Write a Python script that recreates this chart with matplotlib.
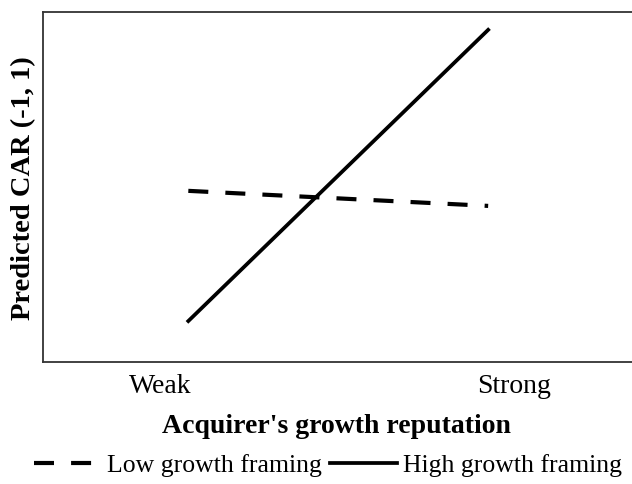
import matplotlib
matplotlib.use("Agg")
import matplotlib.pyplot as plt

# Data
tick_positions = [0.0, 1.0]
tick_labels = ["Weak", "Strong"]
x_points = [0.08, 0.927]
low_growth = [0.489, 0.446]
high_growth = [0.117, 0.949]
series_names = ["Low growth framing", "High growth framing"]

plt.rcParams['font.family'] = ['Liberation Serif', 'DejaVu Serif']

fig = plt.figure(figsize=(6.32, 4.85), dpi=100)
ax = fig.add_axes([43/632, 1 - 363/485, 1.0, 350/485])

ax.plot(x_points, low_growth, color='black', lw=3.0, linestyle=(0, (4.8, 4.1)),
        label=series_names[0], solid_capstyle='butt', dash_capstyle='butt')
ax.plot(x_points, high_growth, color='black', lw=2.7, label=series_names[1])

# x axis mapping: Weak at px 160, Strong at px 514; left edge at 43
scale = 514 - 160
x_left = (43 - 160) / scale
x_right = x_left + 632 / scale
ax.set_xlim(x_left, x_right)
ax.set_ylim(0, 1)

ax.set_xticks(tick_positions)
ax.set_xticklabels(tick_labels, fontsize=20)
ax.set_yticks([])
ax.tick_params(axis='x', length=0, pad=8)
for s in ax.spines.values():
    s.set_color('#333333')
    s.set_linewidth(1.3)

ax.set_xlabel("Acquirer's growth reputation", fontsize=20, fontweight='bold')
ax.xaxis.set_label_coords((336 - 43) / 632, -(414 - 363) / 350)
ax.set_ylabel("Predicted CAR (-1, 1)", fontsize=20.5, fontweight='bold')
ax.yaxis.set_label_coords(-(43 - 36) / 632, 0.5)

fig.legend(loc='center', bbox_to_anchor=(328/632, 1 - 466/485), ncol=2, frameon=False,
           fontsize=18.5, handlelength=2.6, handletextpad=0.25, columnspacing=0.3)

fig.savefig("out.png", dpi=100)
